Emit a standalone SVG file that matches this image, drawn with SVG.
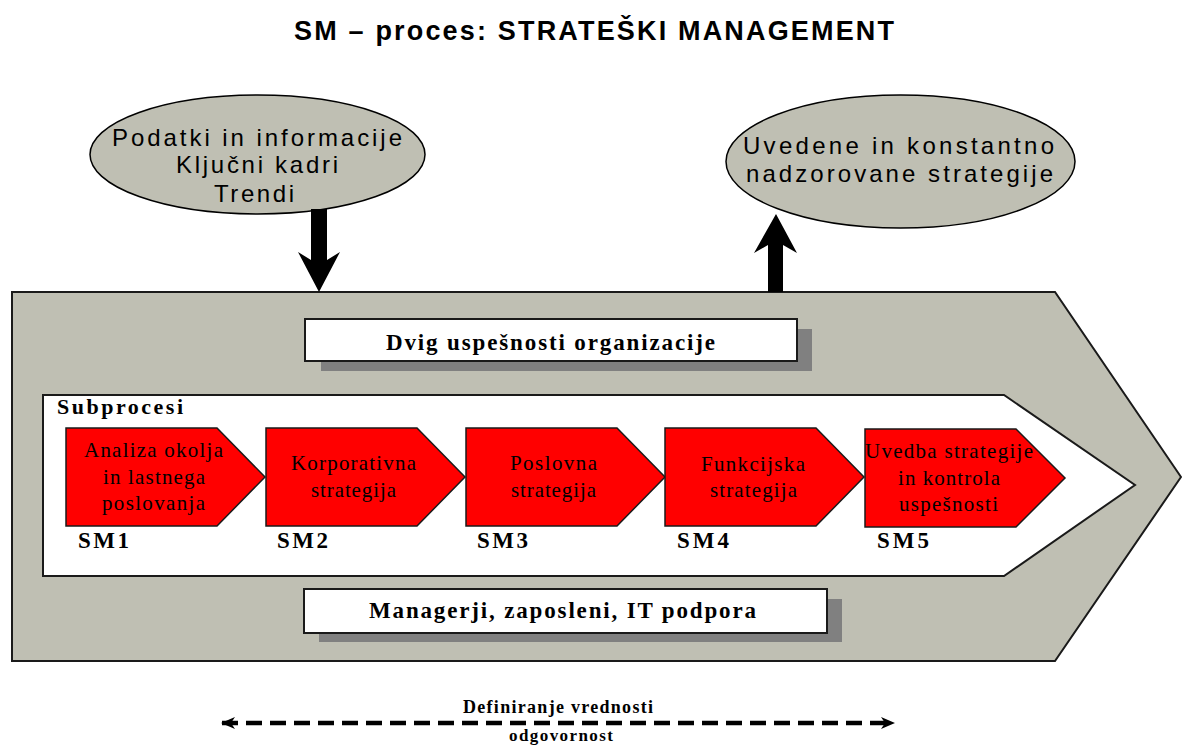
<svg xmlns="http://www.w3.org/2000/svg" width="1182" height="745" viewBox="0 0 1182 745">
  <defs>
    <style>
      .sans { font-family: "Liberation Sans", Arial, sans-serif; fill: #000; }
      .serif { font-family: "Liberation Serif", "Times New Roman", serif; fill: #000; }
      .bold { font-weight: bold; }
      .olive { fill: #bfbfb3; stroke: #000; stroke-width: 1.5; }
      .frame { fill: #bfbfb3; stroke: #1a1a1a; stroke-width: 2; }
      .panel { fill: #fff; stroke: #1a1a1a; stroke-width: 2; }
      .shadow { fill: #808080; }
      .chevron { fill: #ff0000; stroke: #1a1a1a; stroke-width: 1.5; }
      .step { font-size: 21px; }
      .code { font-size: 23px; }
      .block { fill: #000; }
      .dash { fill: none; stroke: #000; stroke-width: 4.5; stroke-dasharray: 16 8; }
    </style>
    <marker id="headEnd" viewBox="0 0 14 12" refX="13" refY="6" markerWidth="14" markerHeight="12" markerUnits="userSpaceOnUse" orient="auto">
      <path d="M0,0 L14,6 L0,12 L4,6 Z" fill="#000"/>
    </marker>
    <marker id="headStart" viewBox="0 0 14 12" refX="1" refY="6" markerWidth="14" markerHeight="12" markerUnits="userSpaceOnUse" orient="auto">
      <path d="M14,0 L0,6 L14,12 L10,6 Z" fill="#000"/>
    </marker>
  </defs>

  <rect width="1182" height="745" fill="#fff"/>

  <!-- heading -->
  <g id="title">
    <text class="sans bold" x="294" y="40" font-size="27" textLength="600">SM – proces: STRATEŠKI MANAGEMENT</text>
  </g>

  <!-- input ellipse -->
  <g id="inputs">
    <ellipse class="olive" cx="257.5" cy="154.5" rx="167.5" ry="59.5"/>
    <text class="sans" font-size="24" x="112" y="146" textLength="290">Podatki in informacije</text>
    <text class="sans" font-size="24" x="176" y="173" textLength="162">Ključni kadri</text>
    <text class="sans" font-size="24" x="214" y="202" textLength="80">Trendi</text>
  </g>

  <!-- output ellipse -->
  <g id="outputs">
    <ellipse class="olive" cx="900.5" cy="161.5" rx="174.5" ry="66.5"/>
    <text class="sans" font-size="24" x="743" y="154" textLength="311">Uvedene in konstantno</text>
    <text class="sans" font-size="24" x="746" y="182" textLength="307">nadzorovane strategije</text>
  </g>

  <!-- main process chevron -->
  <g id="process">
    <polygon class="frame" points="12,292 1055,292 1181,477 1055,661 12,661"/>
  </g>

  <!-- goal box -->
  <g id="goal">
    <rect class="shadow" x="321" y="329" width="491" height="42"/>
    <rect class="panel" x="305" y="319" width="492" height="42"/>
    <text class="serif bold" font-size="23" x="386" y="350" textLength="329">Dvig uspešnosti organizacije</text>
  </g>

  <!-- subprocess band -->
  <g id="subprocesses">
    <polygon class="panel" points="43,395 1004,395 1135,485 1004,576 43,576"/>
    <text class="serif bold" font-size="22" x="57" y="414" textLength="126">Subprocesi</text>
  </g>

  <g id="sm1">
    <polygon class="chevron" points="66,428 217,428 265,477 217,526 66,526"/>
    <text class="serif step" x="84" y="457" textLength="139">Analiza okolja</text>
    <text class="serif step" x="103" y="484" textLength="102">in lastnega</text>
    <text class="serif step" x="102" y="510" textLength="103">poslovanja</text>
    <text class="serif bold code" x="78" y="548" textLength="51">SM1</text>
  </g>

  <g id="sm2">
    <polygon class="chevron" points="266,428 417,428 465,477 417,526 266,526"/>
    <text class="serif step" x="291" y="470" textLength="125">Korporativna</text>
    <text class="serif step" x="311" y="497" textLength="85">strategija</text>
    <text class="serif bold code" x="277" y="548" textLength="51">SM2</text>
  </g>

  <g id="sm3">
    <polygon class="chevron" points="466,428 617,428 665,477 617,526 466,526"/>
    <text class="serif step" x="510" y="470" textLength="87">Poslovna</text>
    <text class="serif step" x="511" y="497" textLength="85">strategija</text>
    <text class="serif bold code" x="477" y="548" textLength="51">SM3</text>
  </g>

  <g id="sm4">
    <polygon class="chevron" points="665,428 816,428 864,477 816,526 665,526"/>
    <text class="serif step" x="701" y="471" textLength="104">Funkcijska</text>
    <text class="serif step" x="710" y="497" textLength="87">strategija</text>
    <text class="serif bold code" x="677" y="548" textLength="52">SM4</text>
  </g>

  <g id="sm5">
    <polygon class="chevron" points="865,429 1016,429 1065,478 1016,527 865,527"/>
    <text class="serif step" x="865" y="458" textLength="168">Uvedba strategije</text>
    <text class="serif step" x="898" y="485" textLength="102">in kontrola</text>
    <text class="serif step" x="899" y="511" textLength="99">uspešnosti</text>
    <text class="serif bold code" x="877" y="548" textLength="52">SM5</text>
  </g>

  <!-- resources box -->
  <g id="resources">
    <rect class="shadow" x="319" y="599" width="523" height="43"/>
    <rect class="panel" x="304" y="589" width="523" height="44"/>
    <text class="serif bold" font-size="23" x="369" y="618" textLength="387">Managerji, zaposleni, IT podpora</text>
  </g>

  <!-- value axis labels -->
  <g id="axis">
    <text class="serif bold" font-size="18" x="463" y="713" textLength="190">Definiranje vrednosti</text>
    <text class="serif bold" font-size="17" x="509" y="741" textLength="104">odgovornost</text>
  </g>

  <g id="connectors">
    <!-- inputs into the process -->
    <polygon class="block" points="311,209 311,260 298,252 319,292 340,252 327,260 327,209"/>
    <!-- process out to implemented strategies -->
    <polygon class="block" points="768,292 768,245 754,253 776,214 797,253 783,245 783,292"/>
    <!-- value / responsibility axis -->
    <line class="dash" x1="222" y1="723" x2="894" y2="723" marker-start="url(#headStart)" marker-end="url(#headEnd)"/>
  </g>
</svg>
